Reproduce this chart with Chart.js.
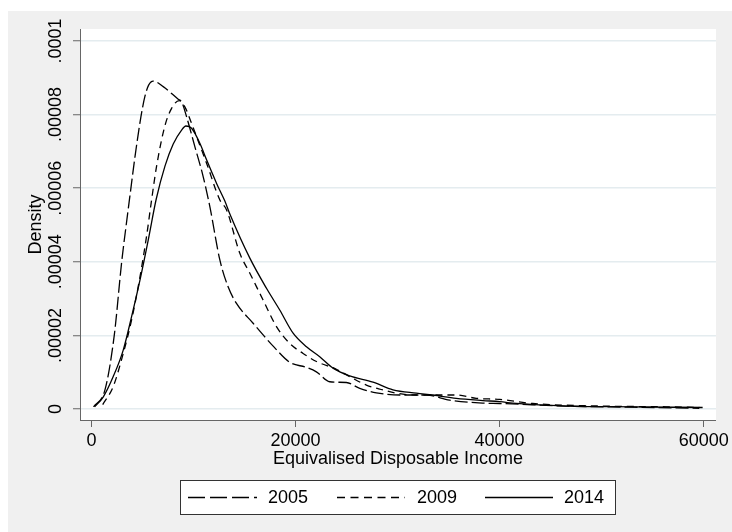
<!DOCTYPE html>
<html>
<head>
<meta charset="utf-8">
<title>Kernel density of equivalised disposable income</title>
<script src="https://cdn.jsdelivr.net/npm/chart.js@4/dist/chart.umd.min.js"></script>
<style>
  html, body { margin: 0; padding: 0; background: #fff; }
  canvas { display: block; }
</style>
</head>
<body>
<canvas id="kdens" width="732" height="532"></canvas>
<script>
// income grid points and estimated densities per survey year
const inc2005 = [200, 1320, 2230, 2960, 3540, 3770, 4260, 4850, 5240, 5600, 6050, 7030, 8500, 8830, 9320, 10130,
  10950, 11600, 12580, 13390, 14210, 15840, 17900, 19430, 21070, 22040, 23350, 24980, 26290, 27920, 30200,
  32820, 35100, 38330, 40000, 46520, 53040, 59570];
const den2005 = [0.06e-5, 0.52e-5, 2.0e-5, 4.0e-5, 5.3e-5, 5.8e-5, 6.85e-5, 7.95e-5, 8.5e-5, 8.8e-5, 8.91e-5, 8.76e-5,
  8.42e-5, 8.35e-5, 7.94e-5, 7.13e-5, 6.31e-5, 5.5e-5, 4.05e-5, 3.32e-5, 2.87e-5, 2.33e-5, 1.68e-5, 1.27e-5,
  1.13e-5, 1.01e-5, 0.74e-5, 0.72e-5, 0.56e-5, 0.44e-5, 0.38e-5, 0.38e-5, 0.24e-5, 0.16e-5, 0.15e-5, 0.08e-5,
  0.05e-5, 0.02e-5];

const inc2009 = [1100, 2130, 3110, 3930, 4750, 5400, 5850, 6380, 7200, 7850, 8600, 9150, 9810, 10300, 11280,
  12580, 13240, 14540, 15520, 16820, 18130, 19430, 20740, 22050, 24000, 25310, 26940, 28570, 29880, 31840,
  33800, 35750, 37710, 40000, 43250, 49780, 56310, 59570];
const den2009 = [0.12e-5, 0.61e-5, 1.51e-5, 2.42e-5, 3.59e-5, 4.7e-5, 5.6e-5, 6.6e-5, 7.7e-5, 8.17e-5, 8.38e-5,
  8.21e-5, 7.76e-5, 7.4e-5, 6.68e-5, 5.68e-5, 5.41e-5, 4.23e-5, 3.69e-5, 2.96e-5, 2.24e-5, 1.78e-5, 1.51e-5,
  1.29e-5, 1.08e-5, 0.88e-5, 0.65e-5, 0.52e-5, 0.43e-5, 0.38e-5, 0.38e-5, 0.38e-5, 0.29e-5, 0.26e-5, 0.15e-5,
  0.08e-5, 0.06e-5, 0.04e-5];

const inc2014 = [300, 1160, 2130, 3110, 3930, 4750, 5560, 6340, 7200, 8010, 8830, 9250, 9810, 10620, 11280,
  12260, 13070, 13560, 15520, 17150, 18450, 19760, 21070, 22370, 23670, 25310, 27590, 29550, 31840, 33460,
  35750, 38360, 40000, 41630, 46520, 53040, 59900];
const den2014 = [0.06e-5, 0.33e-5, 0.88e-5, 1.6e-5, 2.51e-5, 3.5e-5, 4.59e-5, 5.7e-5, 6.6e-5, 7.2e-5, 7.58e-5,
  7.69e-5, 7.63e-5, 7.22e-5, 6.77e-5, 6.13e-5, 5.65e-5, 5.3e-5, 4.1e-5, 3.28e-5, 2.69e-5, 2.06e-5, 1.69e-5,
  1.42e-5, 1.11e-5, 0.9e-5, 0.73e-5, 0.52e-5, 0.43e-5, 0.38e-5, 0.29e-5, 0.23e-5, 0.2e-5, 0.15e-5, 0.08e-5,
  0.06e-5, 0.04e-5];

const years = ['2005', '2009', '2014'];
const xTicks = [0, 20000, 40000, 60000];
const yTicks = [0, 0.00002, 0.00004, 0.00006, 0.00008, 0.0001];
const yTickLabels = ['0', '.00002', '.00004', '.00006', '.00008', '.0001'];

const FONT = "'Liberation Sans', Arial, sans-serif";
const dashes = [[13, 4], [7, 5], []];
const legendDashes = [[17, 5], [8, 5.5], []];

function pts(xs, ys) {
  return xs.map((x, i) => ({ x: x, y: ys[i] }));
}

// gray graph region, white plot region, rotated y labels and the boxed legend
const stataFrame = {
  id: 'stataFrame',
  beforeDraw(chart) {
    const ctx = chart.ctx;
    const a = chart.chartArea;
    ctx.save();
    ctx.fillStyle = '#fff';
    ctx.fillRect(0, 0, chart.width, chart.height);
    ctx.fillStyle = '#f0f0f0';
    ctx.fillRect(8, 11, chart.width - 8, chart.height - 11);
    ctx.fillStyle = '#fff';
    ctx.fillRect(a.left, a.top, a.right - a.left, a.bottom - a.top);
    ctx.restore();
  },
  afterDraw(chart) {
    const ctx = chart.ctx;
    const ys = chart.scales.y;
    ctx.save();
    ctx.fillStyle = '#000';
    ctx.font = '18px ' + FONT;
    ctx.textAlign = 'center';
    ctx.textBaseline = 'middle';
    yTicks.forEach((v, i) => {
      const py = ys.getPixelForValue(v);
      ctx.save();
      ctx.translate(55, py);
      ctx.rotate(-Math.PI / 2);
      ctx.fillText(yTickLabels[i], 0, 1);
      ctx.restore();
    });

    // legend
    const box = { x: 180, y: 480, w: 435, h: 34 };
    ctx.fillStyle = '#fff';
    ctx.fillRect(box.x, box.y, box.w, box.h);
    ctx.strokeStyle = '#333';
    ctx.lineWidth = 1;
    ctx.strokeRect(box.x + 0.5, box.y + 0.5, box.w, box.h);
    const items = [
      { x0: 188, x1: 257, tx: 268 },
      { x0: 337, x1: 405, tx: 417 },
      { x0: 485, x1: 553, tx: 564 }
    ];
    const ly = box.y + box.h / 2 + 0.5;
    items.forEach((it, i) => {
      ctx.beginPath();
      ctx.setLineDash(legendDashes[i]);
      ctx.lineWidth = 1.5;
      ctx.strokeStyle = '#000';
      ctx.moveTo(it.x0, ly);
      ctx.lineTo(it.x1, ly);
      ctx.stroke();
      ctx.setLineDash([]);
      ctx.fillStyle = '#000';
      ctx.textAlign = 'left';
      ctx.fillText(years[i], it.tx, ly + 1);
    });
    ctx.restore();
  }
};

new Chart(document.getElementById('kdens'), {
  type: 'scatter',
  data: {
    datasets: [
      { label: years[0], data: pts(inc2005, den2005), borderDash: dashes[0] },
      { label: years[1], data: pts(inc2009, den2009), borderDash: dashes[1] },
      { label: years[2], data: pts(inc2014, den2014), borderDash: dashes[2] }
    ].map(d => Object.assign(d, {
      showLine: true,
      borderColor: '#000',
      borderWidth: 1.3,
      pointRadius: 0,
      cubicInterpolationMode: 'monotone',
      fill: false
    }))
  },
  options: {
    responsive: false,
    animation: false,
    devicePixelRatio: 1,
    layout: { padding: { left: 0, top: 29, right: 16, bottom: 62 } },
    plugins: { legend: { display: false }, tooltip: { enabled: false } },
    scales: {
      x: {
        type: 'linear',
        min: -1127,
        max: 61205,
        afterBuildTicks: s => { s.ticks = xTicks.map(v => ({ value: v })); },
        afterFit: s => { s.height = 50; },
        grid: { drawOnChartArea: false, tickLength: 7, tickColor: '#666', tickWidth: 1 },
        border: { color: '#666', width: 1 },
        ticks: { color: '#000', font: { family: FONT, size: 18 }, padding: 3, maxRotation: 0,
          callback: v => String(v) },
        title: { display: true, text: 'Equivalised Disposable Income', color: '#000',
          font: { family: FONT, size: 18 }, padding: 0 }
      },
      y: {
        type: 'linear',
        min: -2.99e-6,
        max: 1.0326e-4,
        afterBuildTicks: s => { s.ticks = yTicks.map(v => ({ value: v })); },
        afterFit: s => { s.width = 80; },
        grid: { color: '#e4ecef', lineWidth: 1.5, tickLength: 7, tickColor: '#666', tickWidth: 1 },
        border: { color: '#666', width: 1 },
        ticks: { display: false },
        title: { display: true, text: 'Density', color: '#000',
          font: { family: FONT, size: 18 }, padding: { top: 25, bottom: 0 } }
      }
    }
  },
  plugins: [stataFrame]
});
</script>
</body>
</html>
